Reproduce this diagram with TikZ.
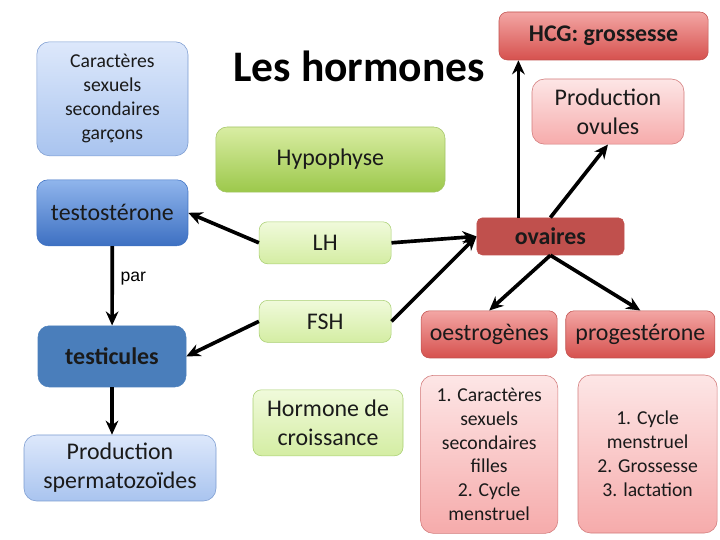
\documentclass[tikz,border=0pt]{standalone}
\usepackage{fontspec}
\setmainfont{Carlito}
\newfontfamily\arialfont{Liberation Sans}
\usetikzlibrary{arrows.meta,positioning}
\definecolor{blueTop}{HTML}{DDE8FB}
\definecolor{blueBot}{HTML}{A9C4EF}
\definecolor{blueLine}{HTML}{7B9BD0}
\definecolor{testoTop}{HTML}{90B5EC}
\definecolor{testoBot}{HTML}{3D70C2}
\definecolor{testiFill}{HTML}{4A7EBB}
\definecolor{hypoTop}{HTML}{D9EDA3}
\definecolor{hypoBot}{HTML}{9CC84B}
\definecolor{hypoLine}{HTML}{A3C466}
\definecolor{lgTop}{HTML}{F0FADB}
\definecolor{lgBot}{HTML}{D4EDA3}
\definecolor{lgLine}{HTML}{A9CF72}
\definecolor{ovFill}{HTML}{C0504D}
\definecolor{redTop}{HTML}{F3A6A4}
\definecolor{redBot}{HTML}{D6514E}
\definecolor{redLine}{HTML}{C0504D}
\definecolor{pkTop}{HTML}{FDE6E6}
\definecolor{pkBot}{HTML}{F6ABAB}
\definecolor{pkLine}{HTML}{D27B7B}
\definecolor{ink}{HTML}{1A1A1A}
\tikzset{
  box/.style = {rounded corners=6pt, align=center, inner sep=2pt, text=ink, font=\fontsize{17}{20.5}\selectfont},
  small/.style = {font=\fontsize{14}{17}\selectfont},
  lb/.style = {box, draw=blueLine, top color=blueTop, bottom color=blueBot, rounded corners=9pt},
  db/.style = {box, draw=testoBot, top color=testoTop, bottom color=testoBot, rounded corners=8pt},
  sb/.style = {box, draw=testiFill, fill=testiFill, rounded corners=8pt, font=\fontsize{17}{20.5}\selectfont\bfseries},
  hg/.style = {box, draw=hypoLine, top color=hypoTop, bottom color=hypoBot, rounded corners=8pt},
  lg/.style = {box, draw=lgLine, top color=lgTop, bottom color=lgBot},
  dr/.style = {box, draw=ovFill, fill=ovFill, rounded corners=4pt, font=\fontsize{17}{20.5}\selectfont\bfseries},
  rd/.style = {box, draw=redLine, top color=redTop, bottom color=redBot},
  pk/.style = {box, draw=pkLine, top color=pkTop, bottom color=pkBot, rounded corners=9pt},
  arrow/.style = {line width=2.6pt, -{Stealth[length=10pt, width=9pt]}}
}

\begin{document}
\begin{tikzpicture}
  \useasboundingbox (0,0) rectangle (18,13.5);
  % left side: testosterone chain
  \node[lb, small, minimum width=3.78cm, minimum height=2.85cm] (car) at (2.81,11.03) {Caractères\\sexuels\\secondaires\\garçons};
  \node[db, minimum width=3.78cm, minimum height=1.65cm] (testo) at (2.81,8.18) {testostérone};
  \node[sb, minimum width=3.7cm, minimum height=1.53cm] (testi) at (2.8,4.59) {testicules};
  \node[lb, minimum width=4.8cm, minimum height=1.65cm] (sperm) at (3.0,1.8) {Production\\spermatozoïdes};
  \node[font=\arialfont\fontsize{12.5}{15}\selectfont] (par) at (3.33,6.53) {par};
  % centre: title and hypophyse
  \node[font=\fontsize{31}{36}\selectfont\bfseries] (title) at (8.98,11.83) {Les hormones};
  \node[hg, minimum width=5.73cm, minimum height=1.63cm] (hypo) at (8.26,9.51) {Hypophyse};
  \node[lg, minimum width=3.3cm, minimum height=1.05cm] (lh) at (8.13,7.43) {LH};
  \node[lg, minimum width=3.3cm, minimum height=1.05cm, below=0.9cm of lh] (fsh) {FSH};
  \node[lg, minimum width=3.75cm, minimum height=1.65cm] (gh) at (8.2,2.93) {Hormone de\\croissance};
  % right side: ovaires
  \node[rd, minimum width=5.23cm, minimum height=1.2cm, font=\fontsize{17}{20.5}\selectfont\bfseries] (hcg) at (15.09,12.6) {HCG: grossesse};
  \node[pk, minimum width=3.8cm, minimum height=1.63cm] (ovules) at (15.2,10.71) {Production\\ovules};
  \node[dr, minimum width=3.68cm, minimum height=0.93cm] (ov) at (13.76,7.59) {ovaires};
  \node[rd, minimum width=3.4cm, minimum height=1.18cm] (oestro) at (12.23,5.14) {oestrogènes};
  \node[rd, minimum width=3.73cm, minimum height=1.18cm, right=0.2cm of oestro] (proge) {progestérone};
  \node[pk, small, minimum width=3.43cm, minimum height=3.95cm, below=0.42cm of oestro] (fx1) {1. Caractères\\sexuels\\secondaires\\filles\\2. Cycle\\menstruel};
  \node[pk, small, minimum width=3.48cm, minimum height=3.95cm] (fx2) at (16.19,2.15) {1. Cycle\\menstruel\\2. Grossesse\\3. lactation};

  \draw[arrow] (testo) -- (testi);
  \draw[arrow] (testi.south) -- (testi.south |- sperm.north);
  \draw[arrow] (lh.west) -- (testo.east);
  \draw[arrow] (fsh.west) -- (testi.east);
  \draw[arrow] (lh.east) -- (ov.west);
  \draw[arrow] (fsh.east) -- (ov.west);
  \draw[arrow] ([xshift=-0.8cm]ov.north) -- ([xshift=-0.8cm]ov.north |- hcg.south);
  \draw[arrow] (ov.north) -- (ovules.south);
  \draw[arrow] (ov.south) -- (oestro.north);
  \draw[arrow] (ov.south) -- (proge.north);
\end{tikzpicture}
\end{document}
